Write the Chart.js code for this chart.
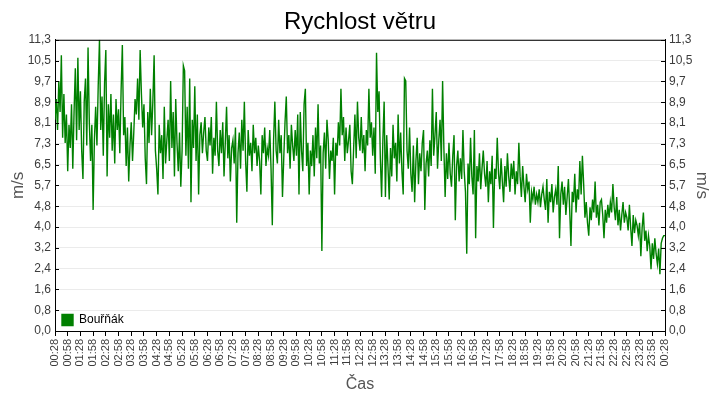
<!DOCTYPE html>
<html>
<head>
<meta charset="utf-8">
<script src="https://cdn.jsdelivr.net/npm/chart.js@4/dist/chart.umd.min.js"></script>
<style>
  body { margin: 0; background: #fff; }
  #wind { display: block; }
</style>
</head>
<body>
<canvas id="wind" width="720" height="400"></canvas>
<script>
const seriesName = "Bouřňák";
const sampleMinutes = 3;

// one row per hour, sample every 3 minutes from 00:28
const windSpeed = [
  8.2,9.0,7.8,9.7,8.5,10.7,7.5,9.2,7.3,8.4,6.2,8.0,7.1,8.8,6.3,8.5,10.2,7.4,10.6,7.8,
  9.3,7.0,5.9,8.9,9.8,7.2,11.0,8.1,6.6,8.0,4.7,7.4,8.7,7.2,9.5,11.3,7.8,9.1,6.8,9.6,
  10.9,6.0,8.8,7.5,9.2,7.0,8.4,6.5,9.0,7.8,8.6,6.9,9.3,11.1,7.6,8.3,6.4,7.9,5.8,7.2,
  8.1,6.6,7.7,9.0,8.4,9.8,8.2,10.9,9.2,7.9,8.8,6.7,5.7,8.5,7.3,9.4,7.6,8.9,10.7,7.0,
  6.3,5.3,8.0,6.9,7.6,5.9,8.7,6.5,7.4,8.2,6.6,9.7,7.1,8.5,6.0,9.0,7.3,6.2,7.7,5.6,
  7.0,10.3,10.1,6.8,8.7,6.3,9.8,5.0,8.2,7.1,9.5,6.6,8.4,5.3,7.6,8.1,6.9,7.7,8.3,7.0,
  6.6,7.9,7.2,8.3,6.1,7.5,6.8,8.9,7.0,6.4,7.8,6.9,8.1,6.0,7.3,8.7,6.7,7.6,5.8,7.1,
  7.4,6.5,7.9,4.2,6.9,7.7,6.3,8.2,7.0,8.9,6.6,5.4,7.8,6.8,7.3,6.2,8.0,6.9,7.5,6.4,
  7.2,6.6,5.3,7.6,6.9,7.9,6.4,7.1,6.8,7.8,6.3,4.1,7.4,8.9,7.0,6.5,8.2,6.9,7.6,5.2,
  6.7,8.1,9.1,6.9,7.6,6.3,8.0,7.2,6.6,7.8,6.8,8.4,5.3,8.5,7.0,6.2,8.8,9.4,6.4,7.3,
  5.3,7.0,6.4,7.6,6.0,7.9,6.7,8.8,6.5,7.2,3.1,6.9,7.7,6.3,8.2,7.4,5.9,7.0,6.6,7.5,
  5.3,7.3,6.8,8.1,7.2,9.4,7.6,8.3,6.6,7.9,6.9,7.4,8.0,6.2,5.7,7.1,8.4,6.7,8.9,7.5,
  7.0,8.3,6.9,7.6,6.2,7.8,7.2,9.4,7.5,8.1,6.8,7.9,6.1,10.8,8.5,9.3,6.7,5.2,7.4,8.9,
  5.2,7.6,6.4,5.1,7.1,6.0,8.0,6.7,7.3,5.8,8.4,6.5,7.7,6.2,5.3,9.8,9.7,7.0,6.3,7.9,
  6.1,5.4,7.2,5.0,6.6,7.5,5.7,6.9,6.2,7.3,7.8,4.7,6.5,7.0,6.0,7.4,6.4,9.4,6.8,7.6,
  8.5,6.3,7.4,8.2,6.6,9.7,7.1,5.2,6.9,5.9,7.3,6.1,5.6,6.8,7.6,4.3,6.4,7.0,5.8,6.7,
  5.9,7.8,6.2,5.4,3.0,6.5,5.7,7.5,6.0,5.3,7.8,3.6,6.4,5.8,6.9,5.5,6.3,7.0,6.1,5.6,
  6.6,5.0,6.2,5.7,6.8,4.0,6.3,5.9,7.5,6.1,5.5,6.7,5.8,5.0,6.4,5.6,6.9,6.0,5.4,6.5,
  5.9,6.6,5.3,6.2,5.7,7.3,6.0,5.2,6.4,5.6,5.0,6.1,5.5,5.8,4.2,5.4,5.1,5.6,4.9,5.3,
  5.0,5.5,4.8,5.3,5.6,5.1,4.7,5.9,4.2,5.4,5.0,5.7,4.6,5.2,5.5,4.9,6.4,3.6,5.3,5.8,
  4.9,5.6,4.5,5.2,5.9,4.7,3.3,5.4,5.0,6.1,4.6,5.5,5.1,6.6,5.3,6.8,5.7,4.4,5.0,4.2,
  3.7,4.8,4.3,5.1,4.6,5.8,4.4,4.9,4.1,5.0,5.1,4.5,3.6,4.7,4.2,4.9,4.4,5.0,4.6,5.7,
  4.8,4.3,5.2,4.1,4.7,3.9,4.5,5.0,4.2,4.6,4.4,3.9,4.9,4.0,3.3,4.5,3.8,4.3,4.1,3.7,
  4.2,2.9,4.0,4.6,3.5,3.9,3.1,3.7,3.3,2.4,3.4,2.8,3.6,3.0,2.6,3.2,2.2,3.4,3.6,3.7,
  3.7
];

const xTickLabels = [
  "00:28","00:58","01:28","01:58","02:28","02:58","03:28","03:58","04:28","04:58",
  "05:28","05:58","06:28","06:58","07:28","07:58","08:28","08:58","09:28","09:58",
  "10:28","10:58","11:28","11:58","12:28","12:58","13:28","13:58","14:28","14:58",
  "15:28","15:58","16:28","16:58","17:28","17:58","18:28","18:58","19:28","19:58",
  "20:28","20:58","21:28","21:58","22:28","22:58","23:28","23:58","00:28"
];
const xTickMinutes = 30;

const yTickLabels = [
  "0,0","0,8","1,6","2,4","3,2","4,0","4,8","5,7","6,5","7,3","8,1","8,9","9,7","10,5","11,3"
];
const yMax = 11.3;

const tickFont = { family: "'Liberation Sans', Arial, sans-serif", size: 12 };
const tickColor = "#3c3c3c";

function buildYTicks(scale) {
  scale.ticks = yTickLabels.map((_, i) => ({ value: i * yMax / (yTickLabels.length - 1) }));
}

function yAxis(position) {
  return {
    type: "linear",
    position,
    min: 0,
    max: yMax,
    afterBuildTicks: buildYTicks,
    afterFit: s => { s.width = 51; },
    ticks: {
      font: tickFont,
      color: tickColor,
      padding: 4,
      callback: (v, i) => yTickLabels[i]
    },
    grid: { color: "#ebebeb", drawTicks: false },
    border: { color: "#000", width: 1 },
    title: {
      display: true,
      text: "m/s",
      color: "#555",
      font: { family: "'Liberation Sans', Arial, sans-serif", size: 17 },
      padding: { top: 4, bottom: 4 }
    }
  };
}

// inward y tick marks, the top frame line, legend kept in the bottom-left corner
const frame = {
  id: "frame",
  afterLayout(chart) {
    const L = chart.legend, a = chart.chartArea;
    if (!L) return;
    L.left = a.left; L.right = a.right;
    L.top = a.top; L.bottom = a.bottom + 2;
    L.width = a.right - a.left; L.height = L.bottom - a.top;
  },
  afterDraw(chart) {
    const { ctx, chartArea: a, scales } = chart;
    ctx.save();
    ctx.strokeStyle = "#000";
    ctx.lineWidth = 1;
    ctx.beginPath();
    ctx.moveTo(a.left, a.top + 0.5);
    ctx.lineTo(a.right, a.top + 0.5);
    scales.y.ticks.forEach(t => {
      const py = Math.round(scales.y.getPixelForValue(t.value)) + 0.5;
      ctx.moveTo(a.left, py);
      ctx.lineTo(a.left + 4, py);
      ctx.moveTo(a.right - 4, py);
      ctx.lineTo(a.right, py);
    });
    ctx.stroke();
    ctx.restore();
  }
};

new Chart(document.getElementById("wind"), {
  type: "line",
  data: {
    datasets: [{
      label: seriesName,
      data: windSpeed.map((v, i) => ({ x: i * sampleMinutes, y: v })),
      borderColor: "#008000",
      backgroundColor: "#008000",
      borderWidth: 1.4,
      pointRadius: 0,
      tension: 0,
      fill: false,
      yAxisID: "y"
    }]
  },
  options: {
    responsive: false,
    animation: false,
    layout: { padding: { left: 4, right: 4, top: 0, bottom: 2 } },
    scales: {
      x: {
        type: "linear",
        min: 0,
        max: (xTickLabels.length - 1) * xTickMinutes,
        afterBuildTicks: scale => {
          scale.ticks = xTickLabels.map((_, i) => ({ value: i * xTickMinutes }));
        },
        afterFit: s => { s.height = 67; },
        ticks: {
          font: { family: "'Liberation Sans', Arial, sans-serif", size: 11 },
          color: tickColor,
          autoSkip: false,
          minRotation: 90,
          maxRotation: 90,
          padding: 3,
          callback: (v, i) => xTickLabels[i]
        },
        grid: { drawOnChartArea: false, drawTicks: true, tickLength: 5, tickColor: "#000" },
        border: { color: "#000", width: 1 },
        title: {
          display: true,
          text: "Čas",
          color: "#555",
          font: { family: "'Liberation Sans', Arial, sans-serif", size: 16 },
          padding: { top: 4, bottom: 4 }
        }
      },
      y: yAxis("left"),
      y2: yAxis("right")
    },
    plugins: {
      title: {
        display: true,
        text: "Rychlost větru",
        color: "#000",
        font: { family: "'Liberation Sans', Arial, sans-serif", size: 24, weight: "normal" },
        padding: { top: 8, bottom: 3 }
      },
      legend: {
        position: "chartArea",
        align: "end",
        labels: {
          boxWidth: 11,
          boxHeight: 11,
          padding: 7,
          color: "#000",
          font: { family: "'Liberation Sans', Arial, sans-serif", size: 12 }
        }
      },
      tooltip: { enabled: false }
    }
  },
  plugins: [frame]
});
</script>
</body>
</html>
